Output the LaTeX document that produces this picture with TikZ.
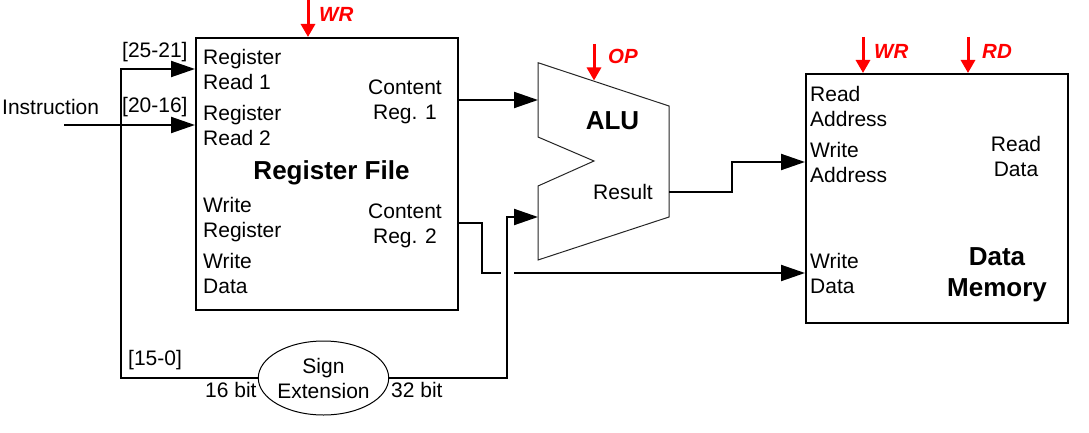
\documentclass[tikz,border=0pt]{standalone}
\usepackage{fontspec}
\setmainfont{Liberation Sans}
\usetikzlibrary{arrows.meta,shapes.geometric}
\definecolor{ctrlred}{RGB}{255,0,0}
\begin{document}
\begin{tikzpicture}[x=1pt,y=-1pt,
  lbl/.style={inner sep=0pt,font=\fontsize{21}{25}\selectfont},
  lbll/.style={lbl,align=left,anchor=west},
  lblc/.style={lbl,align=center},
  bold/.style={inner sep=0pt,align=center,font=\fontsize{26}{31}\selectfont\bfseries},
  ctl/.style={inner sep=0pt,anchor=west,text=ctrlred,font=\fontsize{20.5}{24}\selectfont\bfseries\itshape},
  block/.style={draw,line width=2pt,rectangle,inner sep=0pt},
  wire/.style={line width=2pt},
  arr/.style={-{Triangle[length=24pt,width=16pt]}},
  ctrl/.style={draw=ctrlred,line width=3pt,-{Triangle[length=13pt,width=14pt]},ctrlred}
]
\useasboundingbox (0,0) rectangle (1089,433);

% blocks
\node[block,minimum width=262pt,minimum height=272pt] (rf) at (327,174) {};
\node[block,minimum width=262pt,minimum height=249pt] (dm) at (937,198.5) {};
\node[draw,ellipse,line width=1pt,minimum width=119pt,minimum height=74pt,inner sep=0pt,lblc] (se) at (323.5,378) {Sign\\Extension};

% ALU
\coordinate (a1) at (538,62.7);
\coordinate (a2) at (669,106);
\coordinate (a3) at (669,217);
\coordinate (a4) at (538,260);
\coordinate (a5) at (538,186);
\coordinate (a6) at (594,161);
\coordinate (a7) at (538,137);
\draw[fill=white,draw=black!85,line width=1pt] (a1) -- (a2) -- (a3) -- (a4) -- (a5) -- (a6) -- (a7) -- cycle;
\coordinate (aluin1) at (538,100);
\coordinate (aluin2) at (538,217);
\coordinate (aluout) at (669,192);
\coordinate (aluop) at (594,80.5);

% texts register file
\node[lbll] (t1) at (203,69.5) {Register\\Read 1};
\node[lbll] (t2) at (203,125.5) {Register\\Read 2};
\node[lbll] (t3) at (203,220) {Write\\Register};
\node[lbll] (t4) at (203,273) {Write\\Data};
\node[bold] (t5) at (331.5,173) {Register File};
\node[lblc] (t6) at (405,101.5) {Content\\Reg. 1};
\node[lblc] (t7) at (405,225.5) {Content\\Reg. 2};

% ALU texts
\node[bold] (t8) at (612.5,121) {ALU};
\node[lblc] (t9) at (623,191.5) {Result};

% data memory texts
\node[lbll] (t10) at (810,106.5) {Read\\Address};
\node[lbll] (t11) at (810,162) {Write\\Address};
\node[lbll] (t12) at (810,273) {Write\\Data};
\node[lblc] (t13) at (1016,156) {Read\\Data};
\node[bold] (t14) at (997,275) {Data\\Memory};

% other labels
\node[lbll] (t15) at (2,107) {Instruction};
\node[lbll] (t16) at (122,52) {[25-21]};
\node[lbll] (t17) at (122,107) {[20-16]};
\node[lbll] (t18) at (128,360) {[15-0]};
\node[lbll] (t19) at (205,390) {16 bit};
\node[lbll] (t20) at (391,390) {32 bit};

% control labels
\node[ctl] (c1) at (319,14.5) {WR};
\node[ctl] (c2) at (608,56.5) {OP};
\node[ctl] (c3) at (874,51.5) {WR};
\node[ctl] (c4) at (982,51.5) {RD};

% control arrows
\coordinate (rfwr) at (308,0);
\coordinate (opin) at (594,44);
\coordinate (dmwr) at (863,37);
\coordinate (dmrd) at (968,37);
\draw[ctrl] (rfwr) -- (rfwr |- rf.north);
\draw[ctrl] (opin) -- (aluop);
\draw[ctrl] (dmwr) -- (dmwr |- dm.north);
\draw[ctrl] (dmrd) -- (dmrd |- dm.north);

% wires
\coordinate (instr) at (64,125);
\coordinate (jtop) at (121,69);
\coordinate (jbot) at (121,378);
\draw[wire,arr] (instr) -- (instr -| rf.west);
\draw[wire,arr] (se.west) -- (jbot) -- (jtop) -- (jtop -| rf.west);
\draw[wire,arr] (rf.east |- aluin1) -- (aluin1);

\coordinate (c2out) at (458,223);
\coordinate (c2bend) at (482,223);
\coordinate (hopL) at (501,273);
\coordinate (hopR) at (514,273);
\draw[wire] (c2out) -- (c2bend) |- (hopL);
\draw[wire,arr] (hopR) -- (hopR -| dm.west);

\coordinate (sebend) at (507,378);
\draw[wire,arr] (se.east) -- (sebend) |- (aluin2);

\coordinate (resbend) at (732,192);
\coordinate (wain) at (806,162);
\draw[wire,arr] (aluout) -- (resbend) |- (wain -| dm.west);
\end{tikzpicture}
\end{document}
